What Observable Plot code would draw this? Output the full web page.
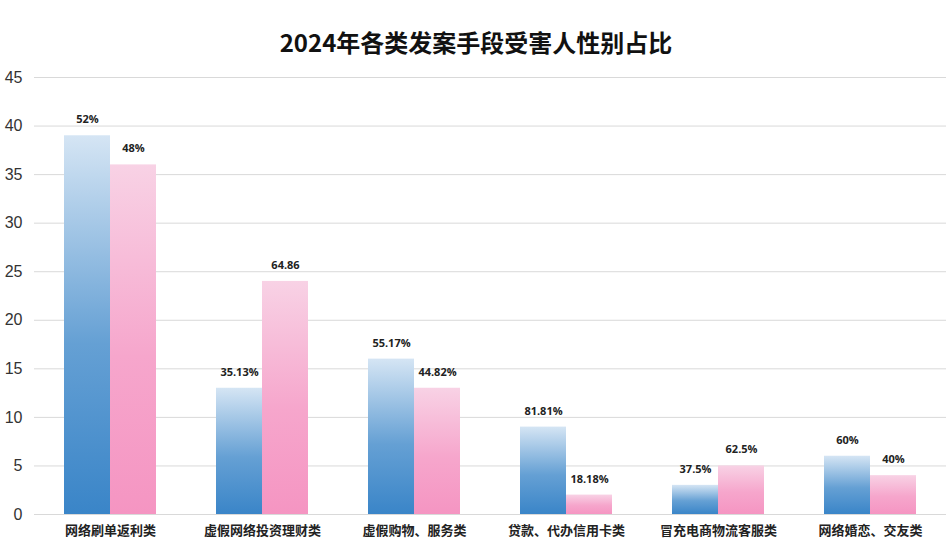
<!DOCTYPE html>
<html>
<head>
<meta charset="utf-8">
<script src="https://cdn.jsdelivr.net/npm/d3@7"></script>
<script src="https://cdn.jsdelivr.net/npm/@observablehq/plot@0.6"></script>
<style>
  body { margin: 0; background: #fff; }
  #title { box-sizing: border-box; height: 65px; padding-top: 27px; text-align: center;
    font-family: "Noto Sans CJK SC", sans-serif; font-weight: bold; font-size: 24px; line-height: 29px; color: #111; }
</style>
</head>
<body>
<div id="title">2024年各类发案手段受害人性别占比</div>
<div id="chart"></div>
<script>
const categories = ["网络刷单返利类", "虚假网络投资理财类", "虚假购物、服务类", "贷款、代办信用卡类", "冒充电商物流客服类", "网络婚恋、交友类"];
const genders = ["男", "女"];
const maleValues = [39, 13, 16, 9, 3, 6];
const femaleValues = [36, 24, 13, 2, 5, 4];
const maleLabels = ["52%", "35.13%", "55.17%", "81.81%", "37.5%", "60%"];
const femaleLabels = ["48%", "64.86", "44.82%", "18.18%", "62.5%", "40%"];
const yTicks = [0, 5, 10, 15, 20, 25, 30, 35, 40, 45];

const rows = [];
categories.forEach((c, i) => {
  rows.push({cat: c, gender: genders[0], value: maleValues[i], label: maleLabels[i]});
  rows.push({cat: c, gender: genders[1], value: femaleValues[i], label: femaleLabels[i]});
});

const chart = Plot.plot({
  width: 952,
  height: 488,
  marginTop: 12,
  marginBottom: 39,
  marginLeft: 34,
  marginRight: 6,
  style: {background: "#fff"},
  fx: {domain: categories, padding: 0, label: null},
  x: {domain: genders, axis: null, paddingInner: 0, paddingOuter: 0.62},
  y: {domain: [0, 45], label: null},
  marks: [
    Plot.gridY(yTicks, {stroke: "#d9d9d9", strokeOpacity: 1, strokeWidth: 1}),
    Plot.axisY(yTicks, {tickSize: 0, tickPadding: 12, fontSize: 16, fontFamily: "Liberation Sans, Arial, sans-serif", fill: "#333", label: null}),
    Plot.axisFx({anchor: "bottom", tickSize: 0, tickPadding: 11, fontSize: 13, fontWeight: "bold", fontFamily: "Noto Sans CJK SC, sans-serif", fill: "#222", label: null, letterSpacing: "0.6px"}),
    Plot.barY(rows.filter(d => d.gender === genders[0]), {fx: "cat", x: "gender", y: "value", fill: "url(#gradM)"}),
    Plot.barY(rows.filter(d => d.gender === genders[1]), {fx: "cat", x: "gender", y: "value", fill: "url(#gradF)"}),
    Plot.text(rows, {fx: "cat", x: "gender", y: "value", text: "label", dy: -16, lineAnchor: "middle",
      fontSize: 11, fontWeight: "bold", fontFamily: "Open Sans, sans-serif", fill: "#222"})
  ]
});

const svg = d3.select(chart.tagName.toLowerCase() === "svg" ? chart : chart.querySelector("svg"));
const defs = svg.insert("defs", ":first-child");
function grad(id, top, bottom) {
  const g = defs.append("linearGradient").attr("id", id).attr("x1", 0).attr("y1", 0).attr("x2", 0).attr("y2", 1);
  g.append("stop").attr("offset", "0%").attr("stop-color", top);
  g.append("stop").attr("offset", "55%").attr("stop-color", d3.interpolateRgb(top, bottom)(0.72));
  g.append("stop").attr("offset", "100%").attr("stop-color", bottom);
}
grad("gradM", "#d5e5f4", "#3a85c8");
grad("gradF", "#f8d2e5", "#f595c2");
document.getElementById("chart").appendChild(chart);
</script>
</body>
</html>
